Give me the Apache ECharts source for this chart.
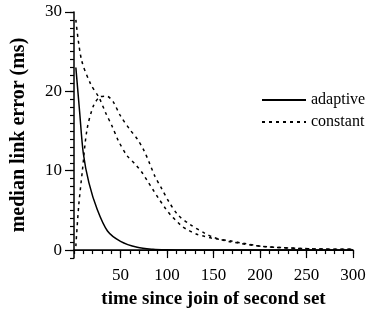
<!DOCTYPE html>
<html>
<head>
<meta charset="utf-8">
<script src="https://cdn.jsdelivr.net/npm/echarts@6/dist/echarts.min.js"></script>
<style>
  html, body { margin: 0; padding: 0; background: #fff; }
  #main { width: 376px; height: 320px; }
</style>
</head>
<body>
<div id="main"></div>
<script>
// data: [time, median error]
var adaptive = [[2, 23], [6, 17.5], [10, 12.2], [16, 8.5], [25, 5.1], [36, 2.4], [50, 1.1], [68, 0.35], [85, 0.1], [100, 0.03], [120, 0], [300, 0]];
var constantA = [[2, 29], [8, 24], [18, 20.9], [27, 19.2], [34, 17.3], [41, 15.6], [48, 13.7], [57, 11.9], [66, 10.8], [73, 9.8], [79, 8.7], [85, 7.6], [91, 6.5], [98, 5.3], [104, 4.4], [110, 3.7], [116, 3.0], [123, 2.5], [132, 2.0], [140, 1.75], [148, 1.5], [157, 1.35], [166, 1.2], [182, 0.85], [204, 0.45], [257, 0.15], [300, 0.1]];
var constantB = [[2, 0.5], [5, 5.5], [9, 10], [14, 15.2], [21, 18.2], [28, 19.3], [35, 19.4], [42, 18.7], [50, 16.9], [60, 15.2], [68, 14.0], [75, 12.6], [81, 11.0], [87, 9.3], [94, 7.8], [102, 6.1], [112, 4.4], [125, 3.2], [141, 2.1], [150, 1.6], [168, 1.05], [204, 0.45], [257, 0.15], [300, 0.1]];
var xLabels = [50, 100, 150, 200, 250, 300];
var yLabels = [0, 10, 20, 30];
var legendNames = ['adaptive', 'constant'];

var serif = '"Liberation Serif", "DejaVu Serif", serif';
var chart = echarts.init(document.getElementById('main'));

var option = {
  animation: false,
  grid: { left: 74, right: 23, top: 12, bottom: 62 },
  legend: {
    data: legendNames,
    orient: 'vertical',
    left: 256,
    top: 87,
    itemWidth: 44,
    itemHeight: 10,
    itemGap: 6,
    itemStyle: { opacity: 0 },
    textStyle: { fontFamily: serif, fontSize: 16, color: '#000' }
  },
  xAxis: [
    {
      type: 'value', min: 0, max: 300,
      name: 'time since join of second set',
      nameLocation: 'middle', nameGap: 32,
      nameTextStyle: { fontFamily: serif, fontSize: 19, fontWeight: 'bold', color: '#000' },
      axisLine: { lineStyle: { color: '#000', width: 1.5 } },
      axisTick: { customValues: xLabels, length: 8, lineStyle: { color: '#000', width: 1.2 } },
      axisLabel: { customValues: xLabels, fontFamily: serif, fontSize: 17, color: '#000', margin: 9 },
      splitLine: { show: false }
    },
    {
      type: 'value', min: 0, max: 300, interval: 10, position: 'bottom',
      axisLine: { show: false },
      axisTick: { length: 4, lineStyle: { color: '#000', width: 1.2 } },
      axisLabel: { show: false },
      splitLine: { show: false }
    }
  ],
  yAxis: [
    {
      type: 'value', min: -1, max: 30,
      name: 'median link error (ms)',
      nameLocation: 'middle', nameGap: 45,
      nameTextStyle: { fontFamily: serif, fontSize: 20, fontWeight: 'bold', color: '#000' },
      axisLine: { lineStyle: { color: '#000', width: 1.5 } },
      axisTick: { customValues: yLabels, length: 9, lineStyle: { color: '#000', width: 1.2 } },
      axisLabel: { customValues: yLabels, fontFamily: serif, fontSize: 17, color: '#000', margin: 12 },
      splitLine: { show: false }
    },
    {
      type: 'value', min: -1, max: 30, interval: 1, position: 'left',
      axisLine: { show: false },
      axisTick: { length: 4, lineStyle: { color: '#000', width: 1.2 } },
      axisLabel: { show: false },
      splitLine: { show: false }
    }
  ],
  series: [
    {
      name: 'adaptive', type: 'line', data: adaptive, smooth: 0.3,
      showSymbol: false, symbol: 'none',
      lineStyle: { color: '#000', width: 1.5 },
      itemStyle: { color: '#000' },
      markLine: {
        silent: true, symbol: 'none', label: { show: false },
        lineStyle: { color: '#000', width: 1.2, type: 'solid' },
        data: [{ yAxis: 0 }]
      }
    },
    {
      name: 'constant', type: 'line', data: constantA, smooth: 0.3,
      showSymbol: false, symbol: 'none',
      lineStyle: { color: '#000', width: 1.5, type: [3, 4] },
      itemStyle: { color: '#000' }
    },
    {
      name: 'constant', type: 'line', data: constantB, smooth: 0.3,
      showSymbol: false, symbol: 'none',
      lineStyle: { color: '#000', width: 1.5, type: [3, 4] },
      itemStyle: { color: '#000' }
    }
  ]
};
chart.setOption(option);
</script>
</body>
</html>
